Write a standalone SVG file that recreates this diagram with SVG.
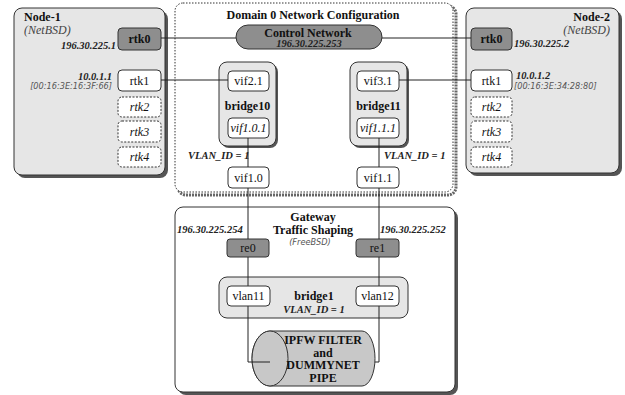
<svg xmlns="http://www.w3.org/2000/svg" width="625" height="395" viewBox="0 0 625 395">
<defs>
<style>
.shadow{fill:#555}
.cont{fill:#e6e6e6;stroke:#333;stroke-width:1}
.white{fill:#fff;stroke:#333;stroke-width:1}
.dark{fill:#8e8e8e;stroke:#333;stroke-width:1}
.dash{fill:#fff;stroke:#333;stroke-width:1;stroke-dasharray:2,1.5}
.t{font-family:"Liberation Serif","Times New Roman",serif;font-size:12px;fill:#111}
.b{font-weight:bold}
.i{font-style:italic}
.c{text-anchor:middle}
.r{text-anchor:end}
.ip{font-family:"Liberation Serif",serif;font-size:10.5px;font-weight:bold;font-style:italic;fill:#222}
.mac{font-family:"DejaVu Sans",sans-serif;font-size:8.2px;font-style:italic;fill:#555}
.os{font-family:"Liberation Serif",serif;font-size:12px;font-style:italic;fill:#444}
.ln{stroke:#222;stroke-width:1;fill:none}
</style>
</defs>

<g id="node1">
<rect class="shadow" x="17" y="11" width="151" height="167" rx="8"/>
<rect class="cont" x="14" y="8" width="151" height="167" rx="8"/>
<text class="t b" x="24" y="21" font-size="13">Node-1</text>
<text class="os" x="24" y="34">(NetBSD)</text>
<text class="ip r" x="116" y="49">196.30.225.1</text>
<text class="ip r" x="112" y="80">10.0.1.1</text>
<text class="mac r" x="112" y="89">[00:16:3E:16:3F:66]</text>
</g>
<g id="n1-rtk0"><rect class="dark" x="118" y="28" width="43" height="22" rx="4"/><text class="t b c" x="139.5" y="43">rtk0</text></g>
<g id="n1-rtk1"><rect class="white" x="118" y="70" width="43" height="21" rx="4"/><text class="t c" x="139.5" y="84.5">rtk1</text></g>
<g id="n1-rtk2"><rect class="dash" x="118" y="97" width="43" height="20" rx="4"/><text class="t i c" x="139.5" y="111">rtk2</text></g>
<g id="n1-rtk3"><rect class="dash" x="118" y="121" width="43" height="21" rx="4"/><text class="t i c" x="139.5" y="135.5">rtk3</text></g>
<g id="n1-rtk4"><rect class="dash" x="118" y="147" width="43" height="20" rx="4"/><text class="t i c" x="139.5" y="161">rtk4</text></g>

<g id="node2">
<rect class="shadow" x="469" y="11" width="153" height="165" rx="8"/>
<rect class="cont" x="466" y="8" width="153" height="165" rx="8"/>
<text class="t b r" x="610" y="21" font-size="13">Node-2</text>
<text class="os r" x="610" y="34">(NetBSD)</text>
<text class="ip" x="514" y="47">196.30.225.2</text>
<text class="ip" x="516" y="79">10.0.1.2</text>
<text class="mac" x="514" y="89">[00:16:3E:34:28:80]</text>
</g>
<g id="n2-rtk0"><rect class="dark" x="471" y="28" width="41" height="22" rx="4"/><text class="t b c" x="491.5" y="43">rtk0</text></g>
<g id="n2-rtk1"><rect class="white" x="471" y="70" width="41" height="21" rx="4"/><text class="t c" x="491.5" y="84.5">rtk1</text></g>
<g id="n2-rtk2"><rect class="dash" x="471" y="97" width="41" height="20" rx="4"/><text class="t i c" x="491.5" y="111">rtk2</text></g>
<g id="n2-rtk3"><rect class="dash" x="471" y="121" width="41" height="21" rx="4"/><text class="t i c" x="491.5" y="135.5">rtk3</text></g>
<g id="n2-rtk4"><rect class="dash" x="471" y="147" width="41" height="20" rx="4"/><text class="t i c" x="491.5" y="161">rtk4</text></g>

<g id="domain0">
<rect x="178" y="6" width="278" height="189" rx="8" fill="none" stroke="#666" stroke-width="3" stroke-dasharray="2,1"/>
<rect x="175" y="3" width="278" height="189" rx="8" fill="#fff" stroke="#333" stroke-width="1" stroke-dasharray="1.5,1.5"/>
<text class="t b c" x="313" y="19" font-size="12.8">Domain 0 Network Configuration</text>
</g>
<g id="control">
<rect class="dark" x="236" y="25" width="146" height="24" rx="12"/>
<text class="t b c" x="308" y="36.5" font-size="12">Control Network</text>
<text class="ip c" x="309" y="47" font-size="7.5">196.30.225.253</text>
</g>
<g id="bridge10">
<rect class="shadow" x="221" y="64" width="57" height="84" rx="8"/>
<rect class="cont" x="219" y="62" width="57" height="84" rx="8"/>
<text class="t b c" x="247.5" y="110" font-size="12.5">bridge10</text>
</g>
<g id="vif2.1"><rect class="white" x="228" y="71" width="41" height="20" rx="4"/><text class="t c" x="248.5" y="85">vif2.1</text></g>
<g id="vif1.0.1"><rect class="white" x="228" y="118" width="41" height="20" rx="4"/><text class="t i c" x="248.5" y="132">vif1.0.1</text></g>
<g id="bridge11">
<rect class="shadow" x="352" y="64" width="57" height="84" rx="8"/>
<rect class="cont" x="350" y="62" width="57" height="84" rx="8"/>
<text class="t b c" x="378.5" y="110" font-size="12.5">bridge11</text>
</g>
<g id="vif3.1"><rect class="white" x="357" y="71" width="42" height="20" rx="4"/><text class="t c" x="378" y="85">vif3.1</text></g>
<g id="vif1.1.1"><rect class="white" x="357" y="118" width="42" height="20" rx="4"/><text class="t i c" x="378" y="132">vif1.1.1</text></g>
<g id="vif1.0"><rect class="white" x="228" y="167" width="41" height="21" rx="4"/><text class="t c" x="248.5" y="181.5">vif1.0</text></g>
<g id="vif1.1"><rect class="white" x="357" y="167" width="42" height="21" rx="4"/><text class="t c" x="378" y="181.5">vif1.1</text></g>
<text class="ip" x="188" y="159" font-size="9">VLAN_ID = 1</text>
<text class="ip" x="384" y="159" font-size="9">VLAN_ID = 1</text>

<g id="gateway">
<rect class="shadow" x="178" y="210" width="280" height="185" rx="8"/>
<rect x="175" y="207" width="280" height="185" rx="8" fill="#fff" stroke="#333"/>
<text class="t b c" x="313" y="220.5" font-size="12">Gateway</text>
<text class="t b c" x="313" y="233.5" font-size="12">Traffic Shaping</text>
<text class="mac c" x="310" y="245" font-size="9">(FreeBSD)</text>
<text class="ip" x="177" y="233" font-size="11">196.30.225.254</text>
<text class="ip" x="380" y="233" font-size="11">196.30.225.252</text>
</g>
<g id="re0"><rect class="dark" x="227" y="239" width="42" height="18" rx="3"/><text class="t c" x="248" y="252">re0</text></g>
<g id="re1"><rect class="dark" x="356" y="239" width="43" height="18" rx="3"/><text class="t c" x="377.5" y="252">re1</text></g>
<g id="bridge1">
<rect class="cont" x="219" y="277" width="189" height="41" rx="8"/>
<text class="t b c" x="314" y="300" font-size="9.5">bridge1</text>
<text class="ip c" x="314" y="313" font-size="9.5">VLAN_ID = 1</text>
</g>

<g id="connectors">
<line class="ln" x1="161" y1="38" x2="236" y2="38"/>
<line class="ln" x1="382" y1="38" x2="471" y2="38"/>
<line class="ln" x1="161" y1="80" x2="228" y2="80"/>
<line class="ln" x1="399" y1="80" x2="471" y2="80"/>
<line class="ln" x1="248" y1="138" x2="248" y2="167"/>
<line class="ln" x1="379" y1="138" x2="379" y2="167"/>
<line class="ln" x1="248" y1="188" x2="248" y2="239"/>
<line class="ln" x1="379" y1="188" x2="379" y2="239"/>
<line class="ln" x1="248" y1="257" x2="248" y2="286"/>
<line class="ln" x1="379" y1="257" x2="379" y2="286"/>
<polyline class="ln" points="248,306 248,362 270,362"/>
<polyline class="ln" points="379,306 379,362 375,362"/>
</g>
<g id="vlan11"><rect class="white" x="227" y="286" width="43" height="20" rx="4"/><text class="t c" x="248.5" y="300">vlan11</text></g>
<g id="vlan12"><rect class="white" x="356" y="286" width="43" height="20" rx="4"/><text class="t c" x="377.5" y="300">vlan12</text></g>

<g id="ipfw">
<path d="M270,331 H362 A13,27.5 0 0 1 362,386 H270 A18,27.5 0 0 1 270,331 Z" fill="#c8c8c8" stroke="#333"/>
<ellipse cx="270" cy="358.5" rx="18" ry="27.5" fill="#c8c8c8" stroke="#333"/>
<line class="ln" x1="252" y1="362" x2="270" y2="362"/>
<text class="t b c" x="323" y="344" font-size="11.5">IPFW FILTER</text>
<text class="t b c" x="323" y="356.5" font-size="11.5">and</text>
<text class="t b c" x="323" y="369" font-size="11.5">DUMMYNET</text>
<text class="t b c" x="323" y="381.5" font-size="11.5">PIPE</text>
</g>
</svg>
